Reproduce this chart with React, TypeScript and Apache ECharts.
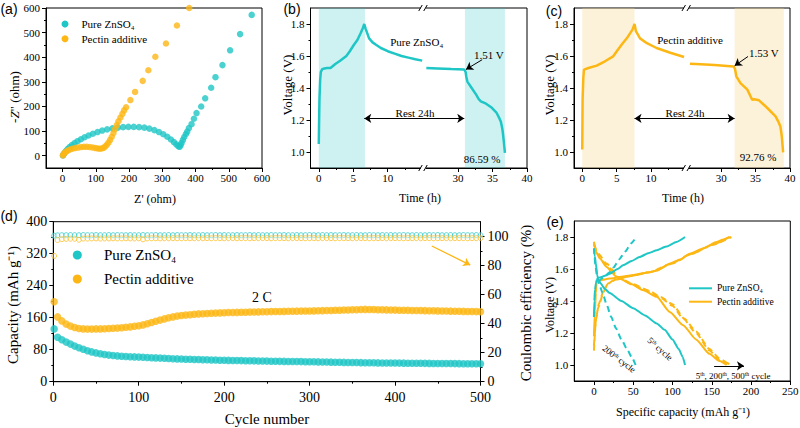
import React, { useEffect, useRef } from 'react';
import * as echarts from 'echarts';

const CYAN = '#1FC6C6';
const ORANGE = '#FDB714';
const SERIF = "'Liberation Serif', 'Times New Roman', serif";
const SANS = "'Liberation Sans', Arial, sans-serif";

// ---------- (a) Nyquist plots: [Z', -Z''] ----------
const eisPure: number[][] = [
  [1, 1], [3, 6], [6, 12], [10, 19], [15, 27], [21, 35], [28, 43], [36, 51], [45, 59], [55, 67],
  [66, 75], [78, 82], [91, 89], [105, 96], [119, 102], [134, 107], [150, 111], [166, 114], [182, 116], [198, 117],
  [214, 117], [230, 116], [246, 114], [261, 110], [276, 104], [290, 96], [303, 87], [315, 77], [326, 66], [335, 55],
  [342, 46], [348, 39], [352, 36], [355, 42], [358, 52], [362, 64], [366, 76], [371, 88], [375, 98], [380, 112],
  [388, 128], [395, 150], [403, 173], [417, 200], [429, 233], [447, 276], [460, 319], [481, 368], [504, 428], [534, 494],
  [569, 572],
];
const eisPectin: number[][] = [
  [1, 1], [2, 5], [4, 9], [7, 13], [11, 17], [16, 21], [22, 25], [29, 28], [37, 31], [46, 33],
  [55, 35], [64, 36], [73, 36], [82, 35], [91, 33], [99, 31], [106, 29], [112, 28], [118, 29], [123, 32],
  [128, 37], [133, 44], [138, 53], [143, 64], [148, 77], [153, 92], [158, 108], [163, 124], [168, 140], [174, 155],
  [180, 170], [185, 184], [191, 197], [204, 226], [218, 259], [241, 304], [258, 347], [279, 402], [311, 456], [344, 529],
  [381, 600],
];

// ---------- (b), (c) self-discharge curves: [time (h), voltage (V)] ----------
const pureChargeRest: number[][] = [
  [0, 1.05], [0.05, 1.2], [0.1, 1.33], [0.2, 1.45], [0.3, 1.5], [0.5, 1.518], [0.8, 1.522], [1.2, 1.525], [1.7, 1.525],
  [2.4, 1.55], [3.1, 1.57], [4.0, 1.6], [4.5, 1.63], [5.1, 1.67], [5.6, 1.7], [6.1, 1.745], [6.4, 1.775], [6.6, 1.8],
  [6.8, 1.77], [7.3, 1.71], [7.8, 1.685], [8.3, 1.67], [9.0, 1.65], [10, 1.63], [11, 1.615], [12, 1.6], [13, 1.59],
  [14, 1.58], [15, 1.571],
];
const pureRestDischarge: number[][] = [
  [25.4, 1.525], [27, 1.522], [29, 1.518], [30.9, 1.515], [31.1, 1.5], [31.2, 1.47], [31.35, 1.44], [31.9, 1.405],
  [32.6, 1.36], [33.0, 1.33], [33.3, 1.317], [33.9, 1.306], [34.8, 1.28], [35.6, 1.244], [36.0, 1.21], [36.2, 1.19],
  [36.4, 1.15], [36.5, 1.12], [36.65, 1.06], [36.8, 0.995],
];
const pectinChargeRest: number[][] = [
  [0, 1.015], [0.05, 1.33], [0.15, 1.46], [0.25, 1.515], [0.9, 1.525], [2.1, 1.54], [3.3, 1.567], [4.5, 1.598],
  [5.2, 1.64], [5.8, 1.675], [6.5, 1.712], [7.3, 1.765], [7.6, 1.8], [7.8, 1.755], [8.4, 1.71], [9.4, 1.68],
  [10.8, 1.65], [12.8, 1.62], [14.8, 1.594],
];
const pectinRestDischarge: number[][] = [
  [25.45, 1.552], [27, 1.548], [29, 1.543], [31.8, 1.535], [32.0, 1.52], [32.2, 1.473], [32.8, 1.43], [33.8, 1.39],
  [34.5, 1.327], [34.8, 1.33], [35.5, 1.323], [36.7, 1.275], [37.9, 1.223], [38.3, 1.19], [38.6, 1.16], [38.8, 1.1],
  [39.0, 0.998],
];

// ---------- (d) cycling ----------
const cycles: number[] = [1, 5, 10, 15, 20, 25, 30, 35, 40, 45, 50, 55, 60, 65, 70, 75, 80, 85, 90, 95,
  100, 105, 110, 115, 120, 125, 130, 135, 140, 145, 150, 155, 160, 165, 170, 175, 180, 185, 190, 195,
  200, 205, 210, 215, 220, 225, 230, 235, 240, 245, 250, 255, 260, 265, 270, 275, 280, 285, 290, 295,
  300, 305, 310, 315, 320, 325, 330, 335, 340, 345, 350, 355, 360, 365, 370, 375, 380, 385, 390, 395,
  400, 405, 410, 415, 420, 425, 430, 435, 440, 445, 450, 455, 460, 465, 470, 475, 480, 485, 490, 495, 500];
const capPure: number[] = [
  132, 111, 105, 99, 94, 89, 85, 81, 77.5, 74.5,
  72, 70, 68, 66.5, 65.5, 64.5, 63.5, 63, 62.5, 62,
  61.5, 61, 60.5, 60, 59.5, 59, 58.5, 58, 57.5, 57,
  56.6, 56.3, 56, 55.6, 55.3, 55, 54.7, 54.4, 54.1, 53.8,
  53.5, 53.3, 53.1, 52.9, 52.7, 52.5, 52.3, 52.1, 51.9, 51.7,
  51.5, 51.3, 51.1, 50.9, 50.8, 50.6, 50.5, 50.3, 50.2, 50,
  49.9, 49.7, 49.5, 49.3, 49.1, 48.9, 48.7, 48.5, 48.3, 48.1,
  47.9, 47.8, 47.6, 47.5, 47.3, 47.2, 47, 46.9, 46.8, 46.7,
  46.6, 46.5, 46.4, 46.3, 46.2, 46.1, 46, 45.9, 45.8, 45.7,
  45.6, 45.5, 45.4, 45.3, 45.2, 45.1, 45, 45, 44.9, 44.8,
  44.8,
];
const capPectin: number[] = [
  200, 162, 152, 144, 139, 135.5, 133, 132, 131.5, 131.5,
  132, 132, 132.5, 133, 133.5, 134, 135, 136, 137, 138.5,
  140, 142, 145, 148, 151, 154, 157, 160, 162, 164,
  165.5, 166.5, 167.5, 168.5, 169.5, 170, 170.5, 171, 171.5, 172,
  172.5, 172.8, 173, 173.3, 173.5, 173.8, 174, 174.3, 174.5, 174.8,
  175, 175.2, 175.4, 175.6, 175.8, 176, 176.2, 176.4, 176.5, 176.6,
  176.7, 177, 177.3, 177.6, 177.9, 178.2, 178.5, 178.8, 179.1, 179.4,
  179.7, 180, 180.4, 180.8, 180.6, 180.3, 180, 179.8, 179.5, 179.2,
  179, 178.8, 178.6, 178.4, 178.2, 178, 177.8, 177.6, 177.4, 177.2,
  177, 176.8, 176.6, 176.4, 176.2, 176, 175.8, 175.6, 175.4, 175.2,
  175,
];
const cePure: number[] = [
  100.4, 100.6, 100.7, 100.7, 100.8, 100.7, 100.7, 100.8, 100.7, 100.7,
  100.8, 100.7, 100.7, 100.8, 100.7, 100.8, 100.7, 100.7, 100.8, 100.7,
  100.7, 100.8, 100.7, 100.7, 100.8, 100.7, 100.7, 100.8, 100.7, 100.8,
  100.7, 100.7, 100.8, 100.7, 100.7, 100.8, 100.7, 100.7, 100.8, 100.7,
  100.8, 100.7, 100.7, 100.8, 100.7, 100.7, 100.8, 100.7, 100.8, 100.7,
  100.7, 100.8, 100.7, 100.7, 100.8, 100.7, 100.7, 100.8, 100.7, 100.7,
  100.8, 100.7, 100.7, 100.8, 100.7, 100.8, 100.7, 100.7, 100.8, 100.7,
  100.7, 100.8, 100.7, 100.7, 100.8, 100.7, 100.7, 100.8, 100.7, 100.8,
  100.7, 100.7, 100.8, 100.7, 100.7, 100.8, 100.7, 100.7, 100.8, 100.7,
  100.8, 100.7, 100.7, 100.8, 100.7, 100.7, 100.8, 100.7, 100.7, 100.8,
  100.7,
];
const cePectin: number[] = [
  86.5, 97.4, 98.0, 98.2, 98.3, 98.3, 97.6, 98.4, 98.4, 98.5,
  98.5, 98.4, 98.5, 98.5, 98.6, 98.5, 98.5, 98.6, 98.5, 98.5,
  98.6, 97.9, 98.5, 98.6, 98.6, 98.5, 98.6, 98.6, 98.7, 98.6,
  98.6, 98.7, 98.6, 98.6, 98.7, 98.6, 98.7, 98.6, 98.7, 98.7,
  98.6, 98.7, 98.7, 98.6, 98.7, 98.7, 98.6, 98.7, 98.7, 98.7,
  98.7, 98.6, 98.7, 98.7, 98.7, 98.6, 98.7, 98.7, 98.7, 98.6,
  98.7, 98.7, 98.6, 98.7, 98.7, 98.7, 98.6, 98.7, 98.7, 98.7,
  98.6, 98.7, 98.7, 98.7, 98.6, 98.7, 98.7, 98.7, 98.6, 98.7,
  98.7, 98.7, 98.6, 98.7, 98.7, 98.7, 98.6, 98.7, 98.7, 98.6,
  98.7, 98.7, 98.7, 98.6, 98.7, 98.7, 98.7, 98.6, 98.7, 98.7,
  98.7,
];

// ---------- (e) GCD profiles: [capacity, voltage] ----------
const pure5Charge: number[][] = [[0, 1.3], [0.5, 1.4], [1.3, 1.47], [2.5, 1.51], [3.4, 1.53], [6, 1.545], [9.7, 1.55], [15, 1.56], [20, 1.57], [30, 1.6], [37, 1.623], [48, 1.65], [58, 1.675], [70, 1.7], [80, 1.717], [92, 1.74], [105, 1.769], [116, 1.8]];
const pure5Dis: number[][] = [[0, 1.727], [1, 1.68], [2.5, 1.634], [4.2, 1.56], [6, 1.53], [8.5, 1.51], [14, 1.475], [20, 1.45], [35, 1.4], [50, 1.355], [65, 1.31], [80, 1.26], [90, 1.22], [100, 1.16], [108, 1.1], [113, 1.05], [116, 1.0]];
const pure200Charge: number[][] = [[6, 1.52], [10, 1.54], [15, 1.56], [20, 1.58], [25, 1.61], [32, 1.66], [40, 1.71], [47, 1.76], [54, 1.8]];
const pure200Dis: number[][] = [[0, 1.73], [2, 1.62], [4, 1.55], [7, 1.5], [11, 1.45], [16, 1.38], [22, 1.3], [28, 1.23], [35, 1.16], [42, 1.1], [48, 1.05], [53, 1.0]];
const pectin5Charge: number[][] = [[0, 1.18], [1.3, 1.34], [2.5, 1.45], [3.4, 1.52], [7.6, 1.53], [20, 1.54], [46, 1.56], [71, 1.58], [80, 1.59], [97, 1.634], [110, 1.66], [122, 1.696], [140, 1.73], [156, 1.769], [165, 1.785], [173, 1.8]];
const pectin5Dis: number[][] = [[0, 1.77], [3.4, 1.7], [7.6, 1.665], [16, 1.613], [29, 1.55], [46, 1.51], [63, 1.467], [80, 1.426], [96.6, 1.332], [113.6, 1.249], [130, 1.16], [147, 1.07], [160, 1.025], [169, 1.0]];
const pectin200Charge: number[][] = [[0, 1.09], [2.5, 1.28], [5.5, 1.36], [12, 1.45], [16, 1.5], [25, 1.53], [46, 1.555], [71, 1.58], [97, 1.63], [122, 1.69], [150, 1.75], [175, 1.8]];
const pectin200Dis: number[][] = [[0, 1.75], [5.5, 1.696], [16, 1.634], [33, 1.54], [50, 1.5], [70, 1.46], [85, 1.42], [100, 1.37], [113.6, 1.29], [130, 1.2], [147, 1.09], [160, 1.03], [175, 1.0]];
const pectin500Charge: number[][] = [[0, 1.12], [3, 1.3], [6, 1.38], [12, 1.46], [18, 1.51], [28, 1.535], [50, 1.56], [75, 1.585], [100, 1.635], [125, 1.695], [150, 1.75], [172, 1.8]];
const pectin500Dis: number[][] = [[0, 1.76], [5, 1.69], [15, 1.63], [30, 1.55], [50, 1.505], [70, 1.465], [85, 1.425], [100, 1.38], [115, 1.29], [130, 1.21], [147, 1.1], [160, 1.04], [172, 1.0]];

// ---------- layout ----------
const G = {
  a: { left: 46, top: 8, width: 216, height: 160 },
  b: { left: 310.5, top: 8, width: 216.5, height: 160 },
  c: { left: 574, top: 8, width: 216, height: 160 },
  d: { left: 53.3, top: 221.7, width: 427.2, height: 160 },
  e: { left: 574.3, top: 221, width: 216, height: 160 },
};
const BRK_SHIFT = 9.8;
const brk = (t: number) => (t > 20 ? t - BRK_SHIFT : t);
const T_MIN = -1.2;
const T_MAX = 30.2;

function mainAxis(gridIndex: number, min: number, max: number, majors: number[], fs: number, margin: number, extra: any = {}, fmt?: (v: number) => string) {
  const f = fmt || ((v: number) => String(v));
  return {
    type: 'value', gridIndex, min, max,
    axisLine: { show: true, onZero: false, lineStyle: { color: '#000', width: 1 } },
    axisTick: { show: true, customValues: majors, length: 4, lineStyle: { color: '#000', width: 1 } },
    axisLabel: {
      show: true, customValues: majors, margin, fontFamily: SERIF, fontSize: fs, color: '#000',
      formatter: (v: number) => `{t|${f(v)}}`,
      rich: { t: { fontFamily: SERIF, fontSize: fs, color: '#000' } },
    },
    splitLine: { show: false },
    ...extra,
  };
}
function minorAxis(gridIndex: number, min: number, max: number, minors: number[], extra: any = {}) {
  return {
    type: 'value', gridIndex, min, max,
    axisLine: { show: false, onZero: false },
    axisTick: { show: true, customValues: minors, length: 2, lineStyle: { color: '#000', width: 1 } },
    axisLabel: { show: false },
    splitLine: { show: false },
    ...extra,
  };
}

const f1 = (v: number) => v.toFixed(1);
const fTime = (v: number) => (v > 15 ? String(Math.round(v + BRK_SHIFT)) : String(v));

function txt(x: number, y: number, text: string, fs: number, extra: any = {}, styleExtra: any = {}) {
  return {
    type: 'text', x, y, z: 100, ...extra,
    style: { text, fontFamily: SERIF, fontSize: fs, fill: '#000', align: 'center', verticalAlign: 'middle', ...styleExtra },
  };
}
function breakMarks(g: any, at: number) {
  const x = g.left + ((at - T_MIN) / (T_MAX - T_MIN)) * g.width;
  const out: any[] = [];
  [g.top, g.top + g.height].forEach((y) => {
    out.push({ type: 'rect', z: 100, shape: { x: x - 2.5, y: y - 2, width: 5, height: 4 }, style: { fill: '#fff' } });
    out.push({ type: 'line', z: 101, shape: { x1: x - 4.5, y1: y + 3, x2: x - 1, y2: y - 3 }, style: { stroke: '#000', lineWidth: 1 } });
    out.push({ type: 'line', z: 101, shape: { x1: x + 0.5, y1: y + 3, x2: x + 4, y2: y - 3 }, style: { stroke: '#000', lineWidth: 1 } });
  });
  return out;
}
const sup = (fs: number) => ({
  n: { fontFamily: SERIF, fontSize: fs, fill: '#000' },
  s: { fontFamily: SERIF, fontSize: fs * 0.62, fill: '#000', verticalAlign: 'top', padding: [0, 0, fs * 0.35, 0] },
});

function buildOption() {
  const tMaj = [0, 5, 10, brk(30), brk(35), brk(40)];
  const tMin = [2.5, 7.5, 12.5, brk(32.5), brk(37.5)];
  const vMaj = [1.0, 1.2, 1.4, 1.6, 1.8];
  const vMin = [1.1, 1.3, 1.5, 1.7];

  const xAxis = [
    mainAxis(0, -50, 600, [0, 100, 200, 300, 400, 500, 600], 11, 4, { position: 'bottom' }),
    mainAxis(1, T_MIN, T_MAX, tMaj, 11, 4, { position: 'bottom' }, fTime),
    mainAxis(2, T_MIN, T_MAX, tMaj, 11, 4, { position: 'bottom' }, fTime),
    mainAxis(3, 0, 500, [0, 100, 200, 300, 400, 500], 14, 9, { position: 'bottom' }),
    mainAxis(4, -25, 250, [0, 50, 100, 150, 200, 250], 11, 4, { position: 'bottom' }),
    minorAxis(0, -50, 600, [50, 150, 250, 350, 450, 550], { position: 'bottom' }),
    minorAxis(1, T_MIN, T_MAX, tMin, { position: 'bottom' }),
    minorAxis(2, T_MIN, T_MAX, tMin, { position: 'bottom' }),
    minorAxis(3, 0, 500, [50, 150, 250, 350, 450], { position: 'bottom' }),
    minorAxis(4, -25, 250, [25, 75, 125, 175, 225], { position: 'bottom' }),
  ];
  const yAxis = [
    mainAxis(0, -50, 600, [0, 100, 200, 300, 400, 500, 600], 11, 6, { position: 'left' }),
    mainAxis(1, 0.9, 1.9, vMaj, 11, 6, { position: 'left' }, f1),
    mainAxis(2, 0.9, 1.9, vMaj, 11, 6, { position: 'left' }, f1),
    mainAxis(3, 0, 400, [0, 80, 160, 240, 320, 400], 14, 6, { position: 'left' }),
    mainAxis(4, 0.9, 1.9, vMaj, 11, 6, { position: 'left' }, f1),
    mainAxis(3, 0, 110, [0, 20, 40, 60, 80, 100], 14, 7, { position: 'right' }),
    minorAxis(0, -50, 600, [50, 150, 250, 350, 450, 550], { position: 'left' }),
    minorAxis(1, 0.9, 1.9, vMin, { position: 'left' }),
    minorAxis(2, 0.9, 1.9, vMin, { position: 'left' }),
    minorAxis(3, 0, 400, [40, 120, 200, 280, 360], { position: 'left' }),
    minorAxis(4, 0.9, 1.9, vMin, { position: 'left' }),
    minorAxis(3, 0, 110, [10, 30, 50, 70, 90], { position: 'right' }),
  ];

  const arrowLine = (color: string, width: number) => ({
    silent: true, animation: false, symbolSize: 7,
    label: { show: false }, lineStyle: { color, width, type: 'solid' },
  });

  const eLine = (data: number[][], color: string, dashed: boolean) => ({
    type: 'line', xAxisIndex: 4, yAxisIndex: 4, data, symbol: 'none', smooth: 0.2, smoothMonotone: 'x',
    lineStyle: { color, width: 2, type: dashed ? [6, 4] : 'solid' },
  });

  const series: any[] = [
    { type: 'scatter', xAxisIndex: 0, yAxisIndex: 0, data: eisPure, symbolSize: 6.5, itemStyle: { color: CYAN } },
    { type: 'scatter', xAxisIndex: 0, yAxisIndex: 0, data: eisPectin, symbolSize: 6.5, itemStyle: { color: ORANGE } },
    // (b)
    {
      type: 'line', xAxisIndex: 1, yAxisIndex: 1, symbol: 'none',
      data: pureChargeRest.map(([t, v]) => [brk(t), v]), lineStyle: { color: CYAN, width: 2.5 },
      markArea: {
        silent: true, itemStyle: { color: 'rgba(31,198,198,0.22)' },
        data: [[{ xAxis: 0 }, { xAxis: brk(6.7) }], [{ xAxis: brk(31.0) }, { xAxis: brk(36.8) }]],
      },
      markLine: {
        ...arrowLine('#000', 1),
        data: [
          [{ coord: [brk(6.6), 1.21], symbol: 'arrow' }, { coord: [brk(30.9), 1.21], symbol: 'arrow' }],
          [{ coord: [brk(33.5), 1.577], symbol: 'none' }, { coord: [brk(31.15), 1.516], symbol: 'arrow' }],
        ],
      },
    },
    { type: 'line', xAxisIndex: 1, yAxisIndex: 1, symbol: 'none', data: pureRestDischarge.map(([t, v]) => [brk(t), v]), lineStyle: { color: CYAN, width: 2.5 } },
    // (c)
    {
      type: 'line', xAxisIndex: 2, yAxisIndex: 2, symbol: 'none',
      data: pectinChargeRest.map(([t, v]) => [brk(t), v]), lineStyle: { color: ORANGE, width: 2.5 },
      markArea: {
        silent: true, itemStyle: { color: 'rgba(246,215,140,0.32)' },
        data: [[{ xAxis: 0 }, { xAxis: brk(7.6) }], [{ xAxis: brk(31.95) }, { xAxis: brk(39.1) }]],
      },
      markLine: {
        ...arrowLine('#000', 1),
        data: [
          [{ coord: [brk(7.6), 1.21], symbol: 'arrow' }, { coord: [brk(31.95), 1.21], symbol: 'arrow' }],
          [{ coord: [brk(33.9), 1.597], symbol: 'none' }, { coord: [brk(31.95), 1.539], symbol: 'arrow' }],
        ],
      },
    },
    { type: 'line', xAxisIndex: 2, yAxisIndex: 2, symbol: 'none', data: pectinRestDischarge.map(([t, v]) => [brk(t), v]), lineStyle: { color: ORANGE, width: 2.5 } },
    // (d)
    {
      type: 'scatter', xAxisIndex: 3, yAxisIndex: 5, data: cycles.map((c, i) => [c, cePure[i]]), symbolSize: 5,
      itemStyle: { color: 'rgba(255,255,255,0.5)', borderColor: CYAN, borderWidth: 0.9 },
    },
    {
      type: 'scatter', xAxisIndex: 3, yAxisIndex: 5, data: cycles.map((c, i) => [c, cePectin[i]]), symbolSize: 5,
      itemStyle: { color: 'rgba(255,255,255,0.5)', borderColor: ORANGE, borderWidth: 0.9 },
      markLine: {
        ...arrowLine(ORANGE, 1.3),
        data: [[{ coord: [443, 93.3], symbol: 'none' }, { coord: [488, 80.2], symbol: 'arrow' }]],
      },
    },
    { type: 'scatter', xAxisIndex: 3, yAxisIndex: 3, data: cycles.map((c, i) => [c, capPure[i]]), symbolSize: 7.5, itemStyle: { color: CYAN } },
    { type: 'scatter', xAxisIndex: 3, yAxisIndex: 3, data: cycles.map((c, i) => [c, capPectin[i]]), symbolSize: 7.5, itemStyle: { color: ORANGE } },
    // (e)
    eLine(pectin500Charge, ORANGE, true),
    eLine(pectin500Dis, ORANGE, true),
    eLine(pectin200Charge, ORANGE, true),
    eLine(pectin200Dis, ORANGE, true),
    eLine(pectin5Charge, ORANGE, false),
    eLine(pectin5Dis, ORANGE, false),
    eLine(pure200Charge, CYAN, true),
    eLine(pure200Dis, CYAN, true),
    eLine(pure5Charge, CYAN, false),
    {
      ...eLine(pure5Dis, CYAN, false),
      markLine: {
        ...arrowLine('#000', 1),
        data: [[{ coord: [153, 0.995], symbol: 'none' }, { coord: [191, 0.995], symbol: 'arrow' }]],
      },
    },
  ];

  const graphic: any[] = [
    // panel labels
    txt(9, 9, '(a)', 14, {}, { fontFamily: SANS }),
    txt(292, 9, '(b)', 14, {}, { fontFamily: SANS }),
    txt(554, 11, '(c)', 14, {}, { fontFamily: SANS }),
    txt(9, 216, '(d)', 14, {}, { fontFamily: SANS }),
    txt(555, 222, '(e)', 14, {}, { fontFamily: SANS }),
    // (a)
    txt(155, 199, "Z' (ohm)", 12),
    {
      type: 'text', x: 14, y: 97, z: 100, rotation: Math.PI / 2,
      style: {
        text: '{n|-}{i|Z}{n|" (ohm)}', align: 'center', verticalAlign: 'middle',
        rich: {
          n: { fontFamily: SERIF, fontSize: 13, fill: '#000' },
          i: { fontFamily: SERIF, fontSize: 13, fill: '#000', fontStyle: 'italic' },
        },
      },
    },
    { type: 'circle', z: 100, shape: { cx: 65, cy: 24, r: 3.5 }, style: { fill: CYAN } },
    { type: 'circle', z: 100, shape: { cx: 65, cy: 38.7, r: 3.5 }, style: { fill: ORANGE } },
    txt(81.5, 24, 'Pure ZnSO₄', 11, {}, { align: 'left' }),
    txt(81.5, 38.7, 'Pectin additive', 11, {}, { align: 'left' }),
    // (b)
    txt(420, 198, 'Time (h)', 12),
    txt(287, 85, 'Voltage (V)', 13, { rotation: Math.PI / 2 }),
    txt(416.7, 41.7, 'Pure ZnSO₄', 11),
    txt(474, 54.7, '1.51 V', 11, {}, { align: 'left' }),
    txt(415, 113, 'Rest 24h', 11),
    txt(482, 159, '86.59 %', 11),
    ...breakMarks(G.b, 15.15),
    // (c)
    txt(683, 198, 'Time (h)', 12),
    txt(549, 85, 'Voltage (V)', 13, { rotation: Math.PI / 2 }),
    txt(690, 40, 'Pectin additive', 11),
    txt(749, 53.3, '1.53 V', 11, {}, { align: 'left' }),
    txt(685, 113, 'Rest 24h', 11),
    txt(758, 157, '92.76 %', 11),
    ...breakMarks(G.c, 15.15),
    // (d)
    txt(13, 305, 'Capacity (mAh g⁻¹)', 15, { rotation: Math.PI / 2 }),
    txt(267, 419, 'Cycle number', 15),
    txt(526, 303, 'Coulombic efficiency (%)', 15, { rotation: Math.PI / 2 }),
    { type: 'circle', z: 100, shape: { cx: 77.3, cy: 255, r: 4.5 }, style: { fill: CYAN } },
    { type: 'circle', z: 100, shape: { cx: 77.3, cy: 279, r: 4.5 }, style: { fill: ORANGE } },
    txt(104, 255, 'Pure ZnSO₄', 15, {}, { align: 'left' }),
    txt(104, 279, 'Pectin additive', 15, {}, { align: 'left' }),
    txt(262, 297, '2 C', 14),
    // (e)
    txt(549.5, 305, 'Voltage (V)', 12, { rotation: Math.PI / 2 }),
    txt(683, 412, 'Specific capacity (mAh g⁻¹)', 12),
    { type: 'line', z: 100, shape: { x1: 689, y1: 288.3, x2: 712, y2: 288.3 }, style: { stroke: CYAN, lineWidth: 2 } },
    { type: 'line', z: 100, shape: { x1: 689, y1: 301.7, x2: 712, y2: 301.7 }, style: { stroke: ORANGE, lineWidth: 2 } },
    txt(717, 288.3, 'Pure ZnSO₄', 9.5, {}, { align: 'left' }),
    txt(717, 301.7, 'Pectin additive', 9.5, {}, { align: 'left' }),
    {
      type: 'text', x: 619, y: 359, z: 100, rotation: -0.65,
      style: { text: '{n|200}{s|th}{n| cycle}', align: 'center', verticalAlign: 'middle', rich: sup(9) },
    },
    {
      type: 'text', x: 660, y: 349, z: 100, rotation: -0.72,
      style: { text: '{n|5}{s|th}{n| cycle}', align: 'center', verticalAlign: 'middle', rich: sup(9) },
    },
    {
      type: 'text', x: 733, y: 376, z: 100,
      style: { text: '{n|5}{s|th}{n|, 200}{s|th}{n|, 500}{s|th}{n| cycle}', align: 'center', verticalAlign: 'middle', rich: sup(9) },
    },
  ];

  const grids = [G.a, G.b, G.c, G.d, G.e].map((g) => ({
    ...g, show: true, borderColor: '#000', borderWidth: 1, backgroundColor: 'transparent',
    containLabel: false, outerBoundsMode: 'none',
  }));

  return {
    animation: false,
    backgroundColor: '#fff',
    textStyle: { fontFamily: SERIF },
    grid: grids,
    xAxis,
    yAxis,
    series,
    graphic,
  };
}

export default function App() {
  const ref = useRef<HTMLDivElement>(null);
  useEffect(() => {
    if (!ref.current) return;
    const chart = echarts.init(ref.current, null, { renderer: 'svg', width: 800, height: 428 });
    chart.setOption(buildOption() as any);
    return () => chart.dispose();
  }, []);
  return <div ref={ref} style={{ position: 'fixed', left: 0, top: 0, width: 800, height: 428, background: '#fff' }} />;
}
